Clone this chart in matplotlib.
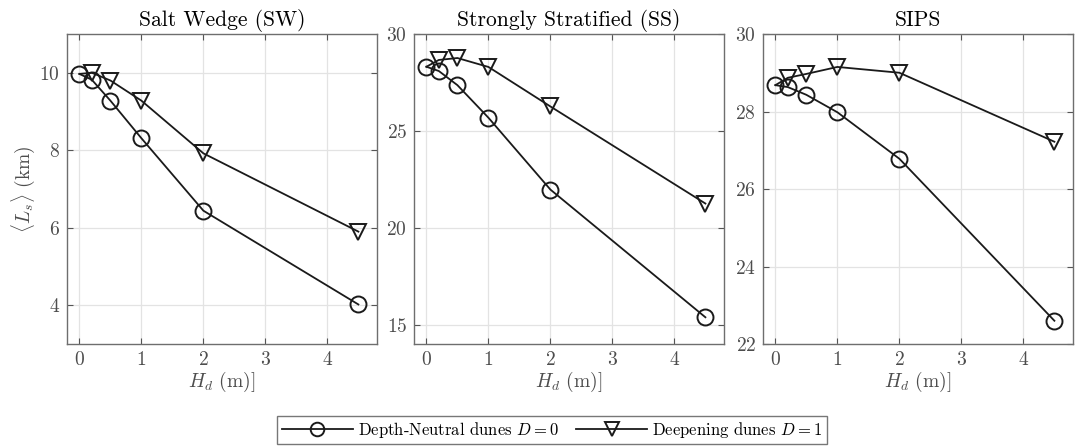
import numpy as np
import matplotlib
matplotlib.use("Agg")
import matplotlib.pyplot as plt

plt.rcParams['font.family'] = 'serif'
plt.rcParams['font.serif'] = ['cmr10', 'DejaVu Serif']
plt.rcParams['mathtext.fontset'] = 'cm'
plt.rcParams['axes.formatter.use_mathtext'] = True

# dune height (m)
hd = [0, 0.2, 0.5, 1, 2, 4.5]

titles = ['Salt Wedge (SW)', 'Strongly Stratified (SS)', 'SIPS']

# <L_s> (km), depth-neutral dunes D=0
ls_neutral = [
    [9.97, 9.82, 9.28, 8.31, 6.44, 4.02],
    [28.31, 28.09, 27.36, 25.68, 21.97, 15.38],
    [28.68, 28.63, 28.43, 27.98, 26.78, 22.60],
]
# <L_s> (km), deepening dunes D=1 (first point shared with D=0)
ls_deep = [
    [9.97, 10.0, 9.80, 9.28, 7.92, 5.90],
    [28.31, 28.66, 28.76, 28.30, 26.26, 21.25],
    [28.68, 28.87, 28.97, 29.15, 29.00, 27.22],
]

ylims = [(3, 11), (14, 30), (22, 30)]
yticks = [[4, 6, 8, 10], [15, 20, 25, 30], [22, 24, 26, 28, 30]]
lefts = [67, 414, 763]

fig = plt.figure(figsize=(10.82, 4.48), dpi=100)
tc = '#1a1a1a'
handles = []
for i in range(3):
    ax = fig.add_axes([lefts[i] / 1082, 1 - 344 / 448, 310 / 1082, 310 / 448])
    l1, = ax.plot(hd, ls_neutral[i], '-', color=tc, lw=1.3, marker='o', ms=11.5,
                  mfc='none', mec=tc, mew=1.4)
    l2, = ax.plot(hd, ls_deep[i], '-', color=tc, lw=1.3, marker='v', ms=12,
                  mfc='none', mec=tc, mew=1.4, markevery=slice(1, None))
    handles = [l1, l2]
    ax.set_xlim(-0.2, 4.8)
    ax.set_ylim(*ylims[i])
    ax.set_xticks([0, 1, 2, 3, 4])
    ax.set_yticks(yticks[i])
    ax.grid(True, color='#e3e3e3', lw=0.9)
    ax.set_axisbelow(True)
    ax.tick_params(direction='in', top=True, right=True, length=4, width=0.8,
                   colors='#555555', labelsize=14, labelcolor='#4d4d4d', pad=5)
    for s in ax.spines.values():
        s.set_color('#6e6e6e')
        s.set_linewidth(1.0)
    ax.set_title(titles[i], fontsize=15.5, pad=6)
    ax.set_xlabel(r'$H_d$ (m)]', fontsize=14, color='#4d4d4d', labelpad=1)
    if i == 0:
        ax.set_ylabel(r'$\langle L_s \rangle$ (km)', fontsize=14, color='#4d4d4d', labelpad=2)

leg = fig.legend(handles, [r'Depth-Neutral dunes $D=0$', r'Deepening dunes $D=1$'],
                 loc='center', bbox_to_anchor=(552 / 1082, 1 - 430 / 448), ncol=2,
                 fontsize=12, frameon=True, fancybox=False, handlelength=4.3,
                 handletextpad=0.3, columnspacing=1.0, borderpad=0.25,
                 markerscale=0.85)
leg.get_frame().set_edgecolor('#555555')
leg.get_frame().set_linewidth(1.0)

fig.savefig('out.png', dpi=100)
